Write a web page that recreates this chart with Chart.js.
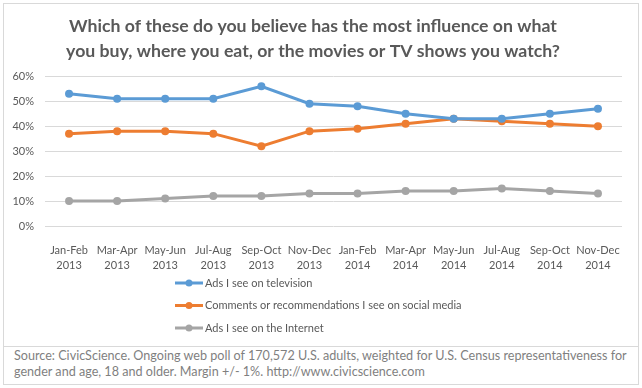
<!DOCTYPE html>
<html>
<head>
<meta charset="utf-8">
<script src="https://cdn.jsdelivr.net/npm/chart.js@4"></script>
<style>
  body { margin: 0; background: #fff; font-family: Lato, sans-serif; }
  #frame { position: absolute; left: 3px; top: 3px; width: 634px; height: 342px; border: 1px solid #d9d9d9; }
  #source { position: absolute; left: 3px; top: 346px; width: 624px; height: 36px; border: 1px solid #d9d9d9; border-top: none;
            padding: 2px 0 0 10px; font-size: 12.6px; line-height: 16px; color: #7f7f7f; white-space: nowrap; overflow: hidden; }
</style>
</head>
<body>
<div id="frame"><canvas id="chart" width="634" height="342"></canvas></div>
<div id="source">Source: CivicScience. Ongoing web poll of 170,572 U.S. adults, weighted for U.S. Census representativeness for<br>gender and age, 18 and older. Margin +/- 1%. http://www.civicscience.com</div>
<script>
const periods = [
  ["Jan-Feb", "2013"], ["Mar-Apr", "2013"], ["May-Jun", "2013"], ["Jul-Aug", "2013"],
  ["Sep-Oct", "2013"], ["Nov-Dec", "2013"], ["Jan-Feb", "2014"], ["Mar-Apr", "2014"],
  ["May-Jun", "2014"], ["Jul-Aug", "2014"], ["Sep-Oct", "2014"], ["Nov-Dec", "2014"]
];
const adsTelevision = [53, 51, 51, 51, 56, 49, 48, 45, 43, 43, 45, 47];
const socialMedia   = [37, 38, 38, 37, 32, 38, 39, 41, 43, 42, 41, 40];
const adsInternet   = [10, 10, 11, 12, 12, 13, 13, 14, 14, 15, 14, 13];
const seriesNames = [
  "Ads I see on television",
  "Comments or recommendations I see on social media",
  "Ads I see on the Internet"
];
const seriesColors = ["#5b9bd5", "#ed7d31", "#a5a5a5"];

const textGray = "#595959";

function makeSet(i, data) {
  return {
    label: seriesNames[i],
    data: data,
    borderColor: seriesColors[i],
    backgroundColor: seriesColors[i],
    borderWidth: 3,
    pointRadius: 4,
    pointBorderWidth: 0,
    tension: 0
  };
}

// vertical legend, line with a dot in the middle like the original
const sideLegend = {
  id: "sideLegend",
  afterDraw(chart) {
    const ctx = chart.ctx;
    const top = chart.chartArea.bottom + 57;
    ctx.save();
    ctx.font = "11px Lato";
    ctx.textBaseline = "middle";
    chart.data.datasets.forEach((ds, i) => {
      const y = top + i * 22.5;
      ctx.strokeStyle = ds.borderColor;
      ctx.lineWidth = 3;
      ctx.beginPath();
      ctx.moveTo(171, y);
      ctx.lineTo(199, y);
      ctx.stroke();
      ctx.fillStyle = ds.borderColor;
      ctx.beginPath();
      ctx.arc(185, y, 3.5, 0, Math.PI * 2);
      ctx.fill();
      ctx.fillStyle = textGray;
      ctx.fillText(ds.label, 201, y);
    });
    ctx.restore();
  }
};

new Chart(document.getElementById("chart"), {
  type: "line",
  data: {
    labels: periods,
    datasets: [makeSet(0, adsTelevision), makeSet(1, socialMedia), makeSet(2, adsInternet)]
  },
  options: {
    responsive: false,
    animation: false,
    layout: { padding: { left: 0, right: 16, bottom: 70 } },
    plugins: {
      legend: { display: false },
      tooltip: { enabled: false },
      title: {
        display: true,
        text: ["Which of these do you believe has the most influence on what",
               "you buy, where you eat, or the movies or TV shows you watch?"],
        color: textGray,
        font: { family: "Lato", size: 17.7, weight: "bold", lineHeight: 1.42 },
        padding: { top: 10, bottom: 12 }
      }
    },
    scales: {
      x: {
        offset: true,
        grid: { display: false },
        border: { display: false },
        ticks: { color: textGray, font: { family: "Lato", size: 11, lineHeight: 1.35 }, padding: 9, maxRotation: 0, autoSkip: false },
        afterFit(scale) { scale.height = 50; }
      },
      y: {
        min: 0,
        max: 60,
        grid: { color: "#d9d9d9", drawTicks: false },
        border: { display: false },
        ticks: {
          stepSize: 10,
          color: textGray,
          font: { family: "Lato", size: 11 },
          padding: 11,
          callback: v => v + "%"
        },
        afterFit(scale) { scale.width = 41; }
      }
    }
  },
  plugins: [sideLegend]
});
</script>
</body>
</html>
